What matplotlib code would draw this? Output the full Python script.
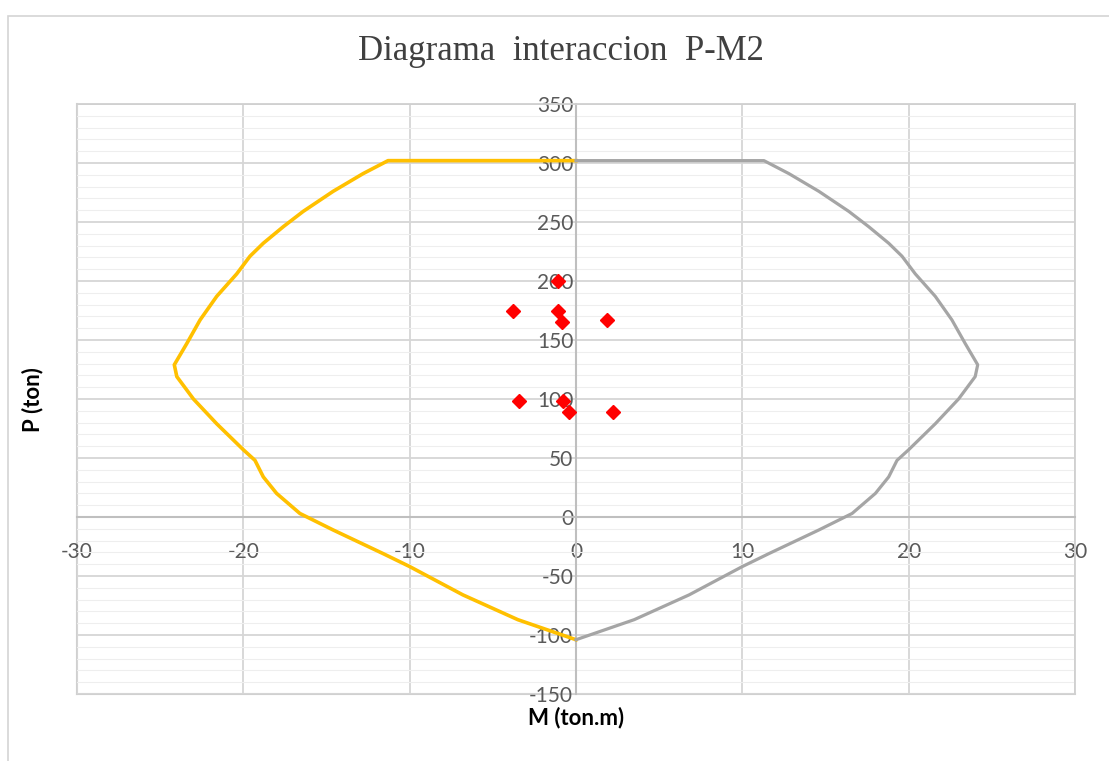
import matplotlib.pyplot as plt
from matplotlib.patches import Rectangle
from matplotlib.ticker import MultipleLocator

# Interaction diagram, negative-moment branch (yellow)
m_neg = [0, -11.3, -12.8, -14.6, -16.4, -17.6, -18.8, -19.6, -20.4, -21.6, -22.6,
         -23.4, -24.15, -24.0, -23.0, -21.6, -20.0, -19.3, -18.8, -18.0, -16.6,
         -14.6, -11.6, -10.0, -6.8, -3.5, 0]
p_neg = [302, 302, 291, 276, 259, 246, 232, 221, 206, 187, 167,
         147, 129, 119, 100, 79, 57, 48, 34, 20, 3,
         -11, -31, -42, -66, -87, -104]

# positive-moment branch (gray)
m_pos = [0, 11.3, 12.8, 14.6, 16.4, 17.6, 18.8, 19.6, 20.4, 21.6, 22.6,
         23.4, 24.15, 24.0, 23.0, 21.6, 20.0, 19.3, 18.8, 18.0, 16.6,
         14.6, 11.6, 10.0, 6.8, 3.5, 0]
p_pos = [302, 302, 291, 276, 259, 246, 232, 221, 206, 187, 167,
         147, 129, 119, 100, 79, 57, 48, 34, 20, 3,
         -11, -31, -42, -66, -87, -104]

# demand points
m_dem = [-1.1, -3.8, -1.1, -0.85, 1.85, -3.45, -0.8, -0.45, 2.25]
p_dem = [200, 175, 175, 165, 167, 98, 98.5, 89, 89]

W, H = 1109, 761
plt.rcParams['font.family'] = ['Lato', 'DejaVu Sans']
plt.rcParams['axes.unicode_minus'] = False
fig = plt.figure(figsize=(W / 100, H / 100), dpi=100)

# outer chart border
fig.patches.append(Rectangle((8 / W, -0.05), 1.2, 1 - 16 / H + 0.05, transform=fig.transFigure,
                             fill=False, edgecolor='#d4d4d4', lw=1.2))

ax = fig.add_axes([77 / W, 1 - 694 / H, (1075 - 77) / W, (694 - 104) / H])
ax.set_xlim(-30, 30)
ax.set_ylim(-150, 350)

ax.xaxis.set_major_locator(MultipleLocator(10))
ax.yaxis.set_major_locator(MultipleLocator(50))
ax.yaxis.set_minor_locator(MultipleLocator(10))
ax.grid(which='major', color='#d6d6d6', lw=1.3)
ax.grid(which='minor', axis='y', color='#eeeeee', lw=0.8)
ax.set_axisbelow(True)

ax.spines['left'].set_position(('data', 0))
ax.spines['bottom'].set_position(('data', 0))
for s in ['left', 'bottom']:
    ax.spines[s].set_color('#bfbfbf')
    ax.spines[s].set_linewidth(1.5)
for s in ['top', 'right']:
    ax.spines[s].set_color('#d0d0d0')
    ax.spines[s].set_linewidth(1.3)
ax.axvline(-30, color='#d0d0d0', lw=1.5, clip_on=False, zorder=0)
ax.axhline(-150, color='#d0d0d0', lw=1.5, clip_on=False, zorder=0)

ax.tick_params(which='both', length=0, labelsize=15, labelcolor='#595959')
ax.tick_params(axis='x', pad=18)
ax.tick_params(axis='y', pad=2)

ax.plot(m_neg, p_neg, color='#ffc000', lw=2.6, zorder=3)
ax.plot(m_pos, p_pos, color='#a5a5a5', lw=2.3, zorder=3)
ax.plot(m_dem, p_dem, linestyle='none', marker='D', color='#ff0000', markersize=7, zorder=4)

fig.text(0.506, 1 - 52 / H, 'Diagrama  interaccion  P-M2', ha='center', va='center',
         fontsize=25, color='#404040', family='Liberation Serif')
fig.text(576 / W, 1 - 718 / H, 'M (ton.m)', ha='center', va='center',
         fontsize=16, fontweight='bold', color='black')
fig.text(33 / W, 1 - 400 / H, 'P (ton)', ha='center', va='center', rotation=90,
         fontsize=16, fontweight='bold', color='black')

fig.savefig('out.png', dpi=100)
